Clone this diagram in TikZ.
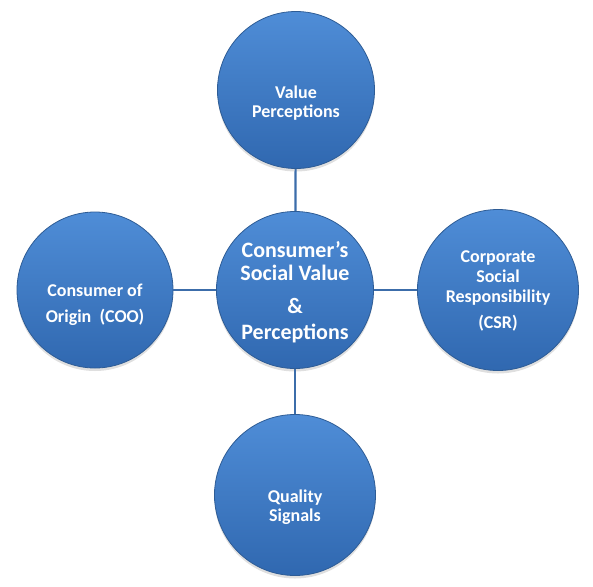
\documentclass[tikz,border=0pt]{standalone}
\usepackage{fontspec}
\setmainfont{Carlito}
\usepackage{xcolor}
\usetikzlibrary{shadows,positioning}
\definecolor{bubbletop}{HTML}{4F8DD7}
\definecolor{bubblebot}{HTML}{3068B0}
\definecolor{bubbleedge}{HTML}{2E5C95}
\definecolor{linkblue}{HTML}{3C6DAA}
\tikzset{
  bubble/.style={circle,draw=bubbleedge,line width=0.8pt,top color=bubbletop,bottom color=bubblebot,
    inner sep=0pt,drop shadow={opacity=0.25,shadow xshift=0pt,shadow yshift=-3pt}},
  caption/.style={text=white,align=center,inner sep=0pt,font=\bfseries\fontsize{18}{19.5}\selectfont},
  link/.style={linkblue,line width=2.2pt}
}
\begin{document}
\begin{tikzpicture}[x=1pt,y=-1pt]
  \useasboundingbox (0,0) rectangle (593,586);
  % centre and the four satellites
  \node[bubble,minimum size=157pt] (core) at (295,290) {};
  \node[bubble,minimum size=157pt] (value) at (296,90) {};
  \node[bubble,minimum size=156pt] (coo) at (95,290) {};
  \node[bubble,minimum size=161pt] (csr) at (498,290) {};
  \node[bubble,minimum size=161pt] (quality) at (295,495) {};
  % connectors
  \draw[link] (value) -- (core);
  \draw[link] (coo) -- (core);
  \draw[link] (csr) -- (core);
  \draw[link] (quality) -- (core);
  % texts
  \node[caption,font=\bfseries\fontsize{22}{23.5}\selectfont] (core-txt) at ([yshift=-2pt]core.center)
    {Consumer’s\\Social Value\\[9pt]\&\\[3pt]Perceptions};
  \node[caption] (value-txt) at ([yshift=-13pt]value.center) {Value\\Perceptions};
  \node[caption] (coo-txt) at ([yshift=-15pt]coo.center) {Consumer of\\[6pt]Origin~ (COO)};
  \node[caption] (csr-txt) at ([yshift=-1pt]csr.center) {Corporate\\[0.5pt]Social\\[0.5pt]Responsibility\\[6pt](CSR)};
  \node[caption] (quality-txt) at ([yshift=-12pt]quality.center) {Quality\\Signals};
\end{tikzpicture}
\end{document}
